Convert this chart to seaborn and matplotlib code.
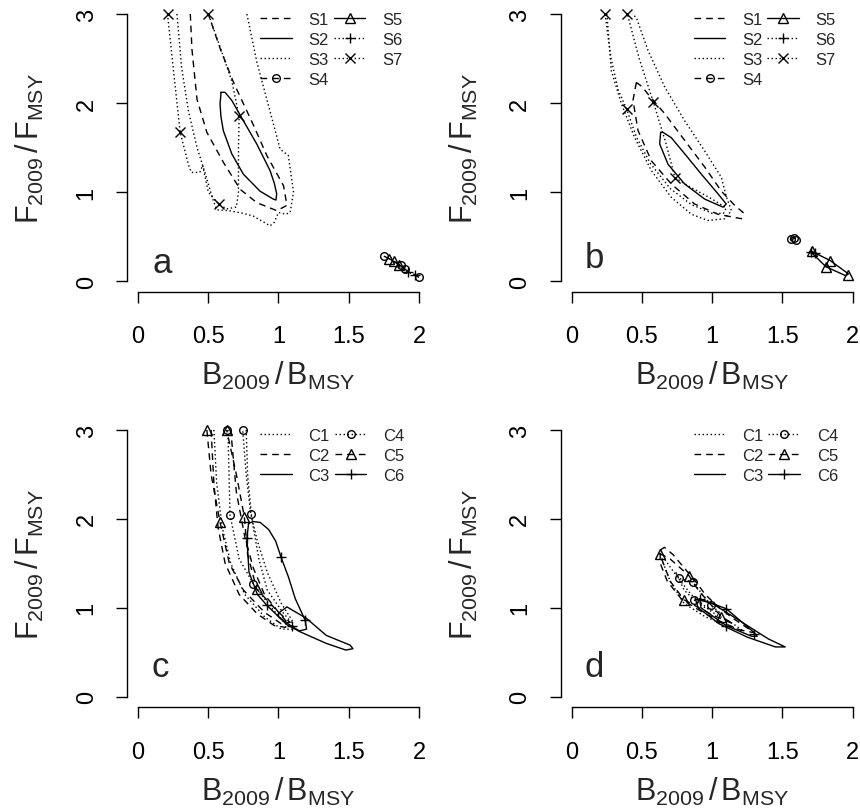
import matplotlib
matplotlib.use("Agg")
import matplotlib.pyplot as plt
from matplotlib.lines import Line2D
import seaborn as sns

# ---------------- data ----------------
# Panel a
a_S1_x = [0.372, 0.384, 0.42, 0.49, 0.609, 0.727, 0.846, 0.988, 1.06, 1.036, 0.917, 0.822, 0.68, 0.585, 0.50]
a_S1_y = [3.0, 2.6, 2.04, 1.67, 1.33, 1.03, 0.88, 0.79, 0.85, 1.07, 1.41, 1.75, 2.23, 2.61, 3.0]
a_S2_x = [0.591, 0.584, 0.59, 0.607, 0.667, 0.75, 0.868, 0.963, 0.982, 0.987, 0.97, 0.94, 0.845, 0.75, 0.667, 0.619, 0.591]
a_S2_y = [2.12, 1.99, 1.85, 1.69, 1.43, 1.20, 1.01, 0.92, 0.91, 0.98, 1.10, 1.24, 1.54, 1.80, 2.03, 2.12, 2.12]
a_S3_x = [0.277, 0.31, 0.36, 0.42, 0.48, 0.53, 0.56, 0.65, 0.75, 0.82, 0.94, 0.97, 1.0, 1.05, 1.083, 1.107, 1.07, 1.012, 0.917, 0.846, 0.775]
a_S3_y = [3.0, 2.4, 1.9, 1.5, 1.2, 0.93, 0.80, 0.79, 0.76, 0.73, 0.62, 0.66, 0.77, 0.75, 0.77, 1.0, 1.41, 1.48, 2.04, 2.46, 3.0]
a_S4_x = [1.75, 1.80, 1.87, 1.90, 1.95, 2.0]
a_S4_y = [0.28, 0.24, 0.18, 0.13, 0.09, 0.04]
a_S4_mx = [1.75, 1.87, 1.90, 2.0]
a_S4_my = [0.28, 0.18, 0.13, 0.04]
a_S5_x = [1.79, 1.82, 1.86, 1.90]
a_S5_y = [0.25, 0.22, 0.18, 0.14]
a_S5_mx = [1.79, 1.82, 1.86]
a_S5_my = [0.25, 0.22, 0.18]
a_S6_x = [1.86, 1.92, 1.97]
a_S6_y = [0.16, 0.10, 0.07]
a_S6_mx = [1.92, 1.97]
a_S6_my = [0.10, 0.07]
a_S7_x = [0.21, 0.25, 0.30, 0.36, 0.38, 0.44, 0.46, 0.50, 0.573, 0.63, 0.70, 0.715, 0.715, 0.72, 0.667, 0.584, 0.50]
a_S7_y = [3.0, 2.4, 1.67, 1.30, 1.22, 1.22, 1.30, 1.0, 0.865, 0.81, 0.83, 1.0, 1.5, 1.85, 2.25, 2.63, 3.0]
a_S7_mx = [0.21, 0.30, 0.573, 0.72, 0.50]
a_S7_my = [3.0, 1.67, 0.865, 1.85, 3.0]

# Panel b
b_S1_x = [0.46, 0.436, 0.472, 0.567, 0.709, 0.875, 1.041, 1.208, 1.22, 1.16, 1.065, 0.947, 0.804, 0.662, 0.543, 0.496, 0.46]
b_S1_y = [2.23, 2.03, 1.69, 1.35, 1.09, 0.865, 0.75, 0.70, 0.77, 0.85, 1.01, 1.28, 1.58, 1.88, 2.10, 2.19, 2.23]
b_S2_x = [0.633, 0.626, 0.686, 0.804, 0.947, 1.077, 1.10, 1.041, 0.923, 0.804, 0.709, 0.65, 0.633]
b_S2_y = [1.67, 1.54, 1.31, 1.09, 0.92, 0.83, 0.865, 0.98, 1.20, 1.43, 1.61, 1.67, 1.67]
b_S3_x = [0.25, 0.282, 0.354, 0.448, 0.567, 0.709, 0.852, 0.97, 1.089, 1.137, 1.10, 1.065, 0.947, 0.804, 0.662, 0.543, 0.46, 0.43]
b_S3_y = [3.0, 2.36, 1.99, 1.61, 1.24, 0.94, 0.75, 0.68, 0.70, 0.79, 0.95, 1.165, 1.46, 1.80, 2.18, 2.59, 2.96, 3.0]
b_S4_x = [1.555, 1.575, 1.60, 1.585, 1.56, 1.555]
b_S4_y = [0.47, 0.49, 0.47, 0.45, 0.46, 0.47]
b_S4_mx = [1.56, 1.58, 1.595]
b_S4_my = [0.47, 0.48, 0.465]
b_S5_x = [1.70, 1.84, 1.97, 1.95, 1.81, 1.70]
b_S5_y = [0.34, 0.23, 0.08, 0.06, 0.16, 0.33]
b_S5_mx = [1.71, 1.84, 1.81, 1.97]
b_S5_my = [0.34, 0.22, 0.16, 0.07]
b_S6_x = [1.69, 1.72, 1.75]
b_S6_y = [0.33, 0.32, 0.30]
b_S6_mx = [1.70, 1.73]
b_S6_my = [0.33, 0.31]
b_S7_x = [0.237, 0.28, 0.33, 0.391, 0.46, 0.56, 0.70, 0.85, 1.0, 1.08, 1.10, 1.0, 0.85, 0.735, 0.67, 0.581, 0.48, 0.396]
b_S7_y = [3.0, 2.5, 2.15, 1.93, 1.62, 1.32, 1.04, 0.86, 0.76, 0.76, 0.82, 0.92, 1.05, 1.16, 1.55, 2.01, 2.5, 3.0]
b_S7_mx = [0.237, 0.391, 0.396, 0.581, 0.735]
b_S7_my = [3.0, 1.93, 3.0, 2.01, 1.16]

# Panel c
c_C1_x = [0.54, 0.56, 0.60, 0.66, 0.76, 0.90, 1.02, 1.10, 1.10, 1.03, 0.92, 0.86, 0.81, 0.78, 0.77]
c_C1_y = [3.0, 2.4, 1.9, 1.5, 1.15, 0.90, 0.76, 0.76, 0.82, 0.95, 1.2, 1.55, 2.0, 2.5, 3.0]
c_C2_x = [0.52, 0.54, 0.57, 0.62, 0.72, 0.85, 0.97, 1.05, 1.06, 1.0, 0.90, 0.82, 0.76, 0.70, 0.66]
c_C2_y = [3.0, 2.4, 1.9, 1.5, 1.15, 0.93, 0.80, 0.78, 0.84, 0.95, 1.15, 1.45, 1.8, 2.3, 3.0]
c_C3_x = [1.0, 1.06, 1.2, 1.34, 1.51, 1.53, 1.479, 1.34, 1.154, 1.06, 1.0, 1.0]
c_C3_y = [0.94, 1.01, 0.88, 0.69, 0.58, 0.54, 0.525, 0.60, 0.73, 0.81, 0.90, 0.94]
c_C4_x = [0.64, 0.655, 0.72, 0.821, 0.95, 1.05, 1.10, 1.02, 0.92, 0.85, 0.802, 0.77, 0.745]
c_C4_y = [3.0, 2.04, 1.55, 1.27, 1.0, 0.82, 0.85, 1.05, 1.4, 1.75, 2.06, 2.5, 3.0]
c_C4_mx = [0.745, 0.635, 0.655, 0.802, 0.821]
c_C4_my = [3.0, 3.0, 2.04, 2.06, 1.27]
c_C5_x = [0.49, 0.52, 0.584, 0.65, 0.75, 0.90, 1.02, 1.08, 1.0, 0.845, 0.78, 0.757, 0.70, 0.631]
c_C5_y = [3.0, 2.5, 1.96, 1.5, 1.2, 0.95, 0.82, 0.84, 0.95, 1.21, 1.6, 2.02, 2.5, 3.0]
c_C5_mx = [0.489, 0.631, 0.584, 0.757, 0.845]
c_C5_my = [3.0, 3.0, 1.96, 2.02, 1.21]
c_C6_x = [0.787, 0.775, 0.79, 0.85, 0.916, 1.0, 1.095, 1.15, 1.2, 1.19, 1.12, 1.07, 1.018, 0.98, 0.93, 0.87, 0.82, 0.787]
c_C6_y = [1.95, 1.78, 1.4, 1.15, 1.03, 0.90, 0.79, 0.74, 0.76, 0.86, 1.1, 1.35, 1.57, 1.75, 1.88, 1.96, 1.97, 1.95]
c_C6_mx = [0.775, 1.018, 0.916, 1.19, 1.095]
c_C6_my = [1.78, 1.57, 1.03, 0.86, 0.79]

# Panel d
d_C1_x = [0.64, 0.70, 0.80, 0.95, 1.10, 1.22, 1.15, 1.0, 0.85, 0.75, 0.66, 0.64]
d_C1_y = [1.55, 1.30, 1.05, 0.90, 0.80, 0.74, 0.82, 0.95, 1.15, 1.35, 1.55, 1.55]
d_C2_x = [0.63, 0.66, 0.72, 0.80, 0.88, 0.95, 1.05, 1.15, 1.30, 1.20, 1.05, 0.90, 0.78, 0.68, 0.63, 0.63]
d_C2_y = [1.65, 1.68, 1.60, 1.45, 1.30, 1.15, 1.0, 0.88, 0.72, 0.75, 0.85, 0.98, 1.10, 1.30, 1.50, 1.65]
d_C3_x = [0.88, 1.0, 1.2, 1.4, 1.52, 1.45, 1.25, 1.05, 0.90, 0.88]
d_C3_y = [1.10, 1.05, 0.85, 0.65, 0.56, 0.56, 0.67, 0.82, 1.0, 1.10]
d_C4_x = [0.74, 0.764, 0.863, 0.93, 0.994, 1.05, 0.95, 0.87, 0.80, 0.74]
d_C4_y = [1.40, 1.33, 1.29, 1.15, 1.03, 0.95, 1.0, 1.09, 1.2, 1.40]
d_C4_mx = [0.764, 0.863, 0.994, 0.87]
d_C4_my = [1.33, 1.29, 1.03, 1.09]
d_C5_x = [0.626, 0.70, 0.835, 0.90, 1.065, 1.15, 1.0, 0.80, 0.70, 0.626]
d_C5_y = [1.61, 1.55, 1.36, 1.2, 0.90, 0.82, 0.92, 1.09, 1.3, 1.61]
d_C5_mx = [0.626, 0.835, 0.80, 1.065]
d_C5_my = [1.61, 1.36, 1.09, 0.90]
d_C6_x = [0.911, 1.10, 1.30, 1.32, 1.28, 1.10, 0.92, 0.911]
d_C6_y = [1.10, 0.99, 0.72, 0.68, 0.68, 0.80, 1.0, 1.10]
d_C6_mx = [0.911, 1.10, 1.10, 1.30]
d_C6_my = [1.10, 0.99, 0.80, 0.71]

x_ticks = [0, 0.5, 1, 1.5, 2]
x_tick_labels = ["0", "0.5", "1", "1.5", "2"]
y_ticks = [0, 1, 2, 3]
y_tick_labels = ["0", "1", "2", "3"]
S_labels = ["S1", "S2", "S3", "S4", "S5", "S6", "S7"]
C_labels = ["C1", "C2", "C3", "C4", "C5", "C6"]
panel_letters = ["a", "b", "c", "d"]

# ---------------- style ----------------
sns.set_theme(style="ticks")
plt.rcParams["font.family"] = ["Liberation Sans", "DejaVu Sans"]
plt.rcParams["mathtext.fontset"] = "custom"
plt.rcParams["mathtext.rm"] = "Liberation Sans"
plt.rcParams["mathtext.it"] = "Liberation Sans:italic"

DASH = (0, (4.8, 3.6))
DOT = (0, (1, 1.9))
SOLID = "-"
LW = 1.0

fig = plt.figure(figsize=(8.6, 8.12), dpi=100)
W, H = 860.0, 812.0


def make_ax(left, right, top, bottom):
    return fig.add_axes([left / W, 1 - bottom / H, (right - left) / W, (bottom - top) / H])


ax_a = make_ax(126.8, 430.2, 4.3, 292.7)
ax_b = make_ax(560.5, 863.9, 4.3, 292.7)
ax_c = make_ax(126.8, 430.2, 420.3, 708.4)
ax_d = make_ax(560.5, 863.9, 420.3, 708.4)

MS = {"o": 5.5, "^": 6.5, "+": 7.5, "x": 6.5}


def line(ax, xs, ys, ls):
    sns.lineplot(x=xs, y=ys, sort=False, estimator=None, ax=ax, color="black",
                 linewidth=LW, linestyle=ls)


def marks(ax, xs, ys, m):
    filled = m in ("o", "^")
    sns.lineplot(x=xs, y=ys, sort=False, estimator=None, ax=ax, color="black",
                 linestyle="", marker=m, markersize=MS[m],
                 markerfacecolor="none" if filled else "black",
                 markeredgecolor="black", markeredgewidth=1.0)


# panel a
line(ax_a, a_S1_x, a_S1_y, DASH)
line(ax_a, a_S2_x, a_S2_y, SOLID)
line(ax_a, a_S3_x, a_S3_y, DOT)
line(ax_a, a_S4_x, a_S4_y, DASH); marks(ax_a, a_S4_mx, a_S4_my, "o")
line(ax_a, a_S5_x, a_S5_y, SOLID); marks(ax_a, a_S5_mx, a_S5_my, "^")
line(ax_a, a_S6_x, a_S6_y, DOT); marks(ax_a, a_S6_mx, a_S6_my, "+")
line(ax_a, a_S7_x, a_S7_y, DOT); marks(ax_a, a_S7_mx, a_S7_my, "x")

# panel b
line(ax_b, b_S1_x, b_S1_y, DASH)
line(ax_b, b_S2_x, b_S2_y, SOLID)
line(ax_b, b_S3_x, b_S3_y, DOT)
line(ax_b, b_S4_x, b_S4_y, DASH); marks(ax_b, b_S4_mx, b_S4_my, "o")
line(ax_b, b_S5_x, b_S5_y, SOLID); marks(ax_b, b_S5_mx, b_S5_my, "^")
line(ax_b, b_S6_x, b_S6_y, DOT); marks(ax_b, b_S6_mx, b_S6_my, "+")
line(ax_b, b_S7_x, b_S7_y, DOT); marks(ax_b, b_S7_mx, b_S7_my, "x")

# panel c
line(ax_c, c_C1_x, c_C1_y, DOT)
line(ax_c, c_C2_x, c_C2_y, DASH)
line(ax_c, c_C3_x, c_C3_y, SOLID)
line(ax_c, c_C4_x, c_C4_y, DOT); marks(ax_c, c_C4_mx, c_C4_my, "o")
line(ax_c, c_C5_x, c_C5_y, DASH); marks(ax_c, c_C5_mx, c_C5_my, "^")
line(ax_c, c_C6_x, c_C6_y, SOLID); marks(ax_c, c_C6_mx, c_C6_my, "+")

# panel d
line(ax_d, d_C1_x, d_C1_y, DOT)
line(ax_d, d_C2_x, d_C2_y, DASH)
line(ax_d, d_C3_x, d_C3_y, SOLID)
line(ax_d, d_C4_x, d_C4_y, DOT); marks(ax_d, d_C4_mx, d_C4_my, "o")
line(ax_d, d_C5_x, d_C5_y, DASH); marks(ax_d, d_C5_mx, d_C5_my, "^")
line(ax_d, d_C6_x, d_C6_y, SOLID); marks(ax_d, d_C6_mx, d_C6_my, "+")


def proxy(ls, m=None):
    return Line2D([], [], color="black", linewidth=LW, linestyle=ls,
                  marker=m if m else "None", markersize=MS.get(m, 6),
                  markerfacecolor="none" if m in ("o", "^") else "black",
                  markeredgecolor="black", markeredgewidth=1.0)


S_handles = [proxy(DASH), proxy(SOLID), proxy(DOT), proxy(DASH, "o"),
             proxy(SOLID, "^"), proxy(DOT, "+"), proxy(DOT, "x")]
C_handles = [proxy(DOT), proxy(DASH), proxy(SOLID), proxy(DOT, "o"),
             proxy(DASH, "^"), proxy(SOLID, "+")]

for ax, letter, (lx, ly) in zip([ax_a, ax_b, ax_c, ax_d], panel_letters,
                                [(0.175, 0.21), (0.16, 0.26), (0.16, 0.34), (0.16, 0.34)]):
    ax.set_xlim(-0.08, 2.08)
    ax.set_ylim(-0.12, 3.12)
    ax.set_xticks(x_ticks)
    ax.set_xticklabels(x_tick_labels)
    ax.set_yticks(y_ticks)
    ax.set_yticklabels(y_tick_labels, rotation=90, va="center")
    ax.spines["top"].set_visible(False)
    ax.spines["right"].set_visible(False)
    ax.spines["left"].set_bounds(0, 3)
    ax.spines["bottom"].set_bounds(0, 2)
    for s in ("left", "bottom"):
        ax.spines[s].set_linewidth(1.0)
        ax.spines[s].set_color("black")
    ax.tick_params(axis="both", direction="out", length=8, width=1.0, colors="black",
                   labelsize=17)
    ax.tick_params(axis="y", pad=13)
    ax.tick_params(axis="x", pad=16)
    ax.set_xlabel(r"$\mathrm{B_{2009}\,/\,B_{MSY}}$", fontsize=22)
    ax.set_ylabel(r"$\mathrm{F_{2009}\,/\,F_{MSY}}$", fontsize=22)
    ax.xaxis.set_label_coords(0.5, -0.29)
    ax.xaxis.label.set_va("center")
    ax.yaxis.set_label_coords(-0.319, 0.5)
    ax.yaxis.label.set_va("center")
    ax.text(lx, ly, letter, fontsize=25, ha="center", va="center")
    ax.patch.set_alpha(0)

for ax, hs, labs in [(ax_a, S_handles, S_labels), (ax_b, S_handles, S_labels),
                     (ax_c, C_handles, C_labels), (ax_d, C_handles, C_labels)]:
    ax.legend(hs, labs, ncol=2, frameon=False, loc="upper left",
              bbox_to_anchor=(0.439, 0.97), fontsize=12, handlelength=1.9,
              handletextpad=1.0, columnspacing=0.3, labelspacing=0.3,
              borderaxespad=0.0, borderpad=0.0)

fig.savefig("out.png", dpi=100)
